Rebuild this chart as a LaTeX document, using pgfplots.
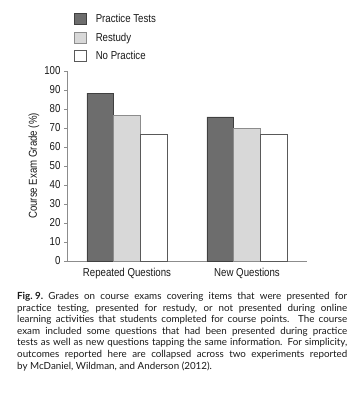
\documentclass[border=0pt]{standalone}
\usepackage{fontspec}
\setmainfont{Liberation Sans}[FakeStretch=0.84]
\newfontfamily\capfont{Lato}
\usepackage{pgfplots}
\pgfplotsset{compat=1.18}
\definecolor{darkbar}{HTML}{6D6D6D}
\definecolor{lightbar}{HTML}{D8D8D8}
\definecolor{axgray}{HTML}{8C8C8C}
\begin{document}
\begin{tikzpicture}[x=1pt,y=1pt]
\path[use as bounding box] (0,0) rectangle (355,400);
\begin{axis}[
  at={(67pt,139pt)}, anchor=south west,
  scale only axis, width=240pt, height=190pt,
  xmin=-0.5, xmax=1.5, ymin=0, ymax=100,
  axis x line*=bottom, axis y line*=left,
  axis line style={axgray, line width=0.9pt},
  x axis line style={-}, y axis line style={-},
  ytick={0,10,...,100},
  xtick={0,1}, xticklabels={Repeated Questions, New Questions},
  x tick style={draw=none},
  y tick style={axgray, line width=0.8pt},
  tick align=outside, major tick length=2.5pt,
  tick label style={font=\fontsize{11.5}{12}\selectfont, text=black!90},
  /pgf/number format/assume math mode=true,
  yticklabel style={xshift=-0.5pt},
  xticklabel style={yshift=-1pt},
  ylabel={Course Exam Grade (\%)},
  ylabel style={font=\fontsize{11.5}{12}\selectfont, text=black!90, at={(axis description cs:-0.138,0.5)}, anchor=center},
  legend style={at={(axis description cs:0.029,1.31)}, anchor=north west, draw=none, fill=none,
    font=\fontsize{11.5}{12}\selectfont, text=black!90, row sep=4.6pt, inner sep=0pt,
    /tikz/every odd column/.append style={column sep=7pt}},
  legend cell align=left,
  legend image code/.code={\draw[#1, line width=0.6pt] (0pt,-5.5pt) rectangle (12pt,5.5pt);},
  clip=false,
]
\addplot[ybar, bar width=26.7pt, bar shift=-26.7pt, fill=darkbar, draw=black!75, line width=0.6pt] coordinates {(0,88.3) (1,75.8)};
\addplot[ybar, bar width=26.7pt, bar shift=0pt, fill=lightbar, draw=black!45, line width=0.6pt] coordinates {(0,76.5) (1,69.6)};
\addplot[ybar, bar width=26.7pt, bar shift=26.7pt, fill=white, draw=black!65, line width=0.6pt] coordinates {(0,66.5) (1,66.5)};
\legend{Practice Tests, Restudy, No Practice}
\end{axis}
\node[anchor=north west, inner sep=0pt, align=left, font=\capfont\fontsize{9.8}{11.6}\selectfont, text=black!90] at (17,108) {%
\makebox[330pt][s]{\mbox{\textbf{Fig.\kern0.25em9.}}\ Grades on course exams covering items that were presented for}\\
\makebox[330pt][s]{practice testing, presented for restudy, or not presented during online}\\
\makebox[330pt][s]{learning activities that students completed for course points. The course}\\
\makebox[330pt][s]{exam included some questions that had been presented during practice}\\
\makebox[330pt][s]{tests as well as new questions tapping the same information. For simplicity,}\\
\makebox[330pt][s]{outcomes reported here are collapsed across two experiments reported}\\
by McDaniel, Wildman, and Anderson (2012).};
\end{tikzpicture}
\end{document}
